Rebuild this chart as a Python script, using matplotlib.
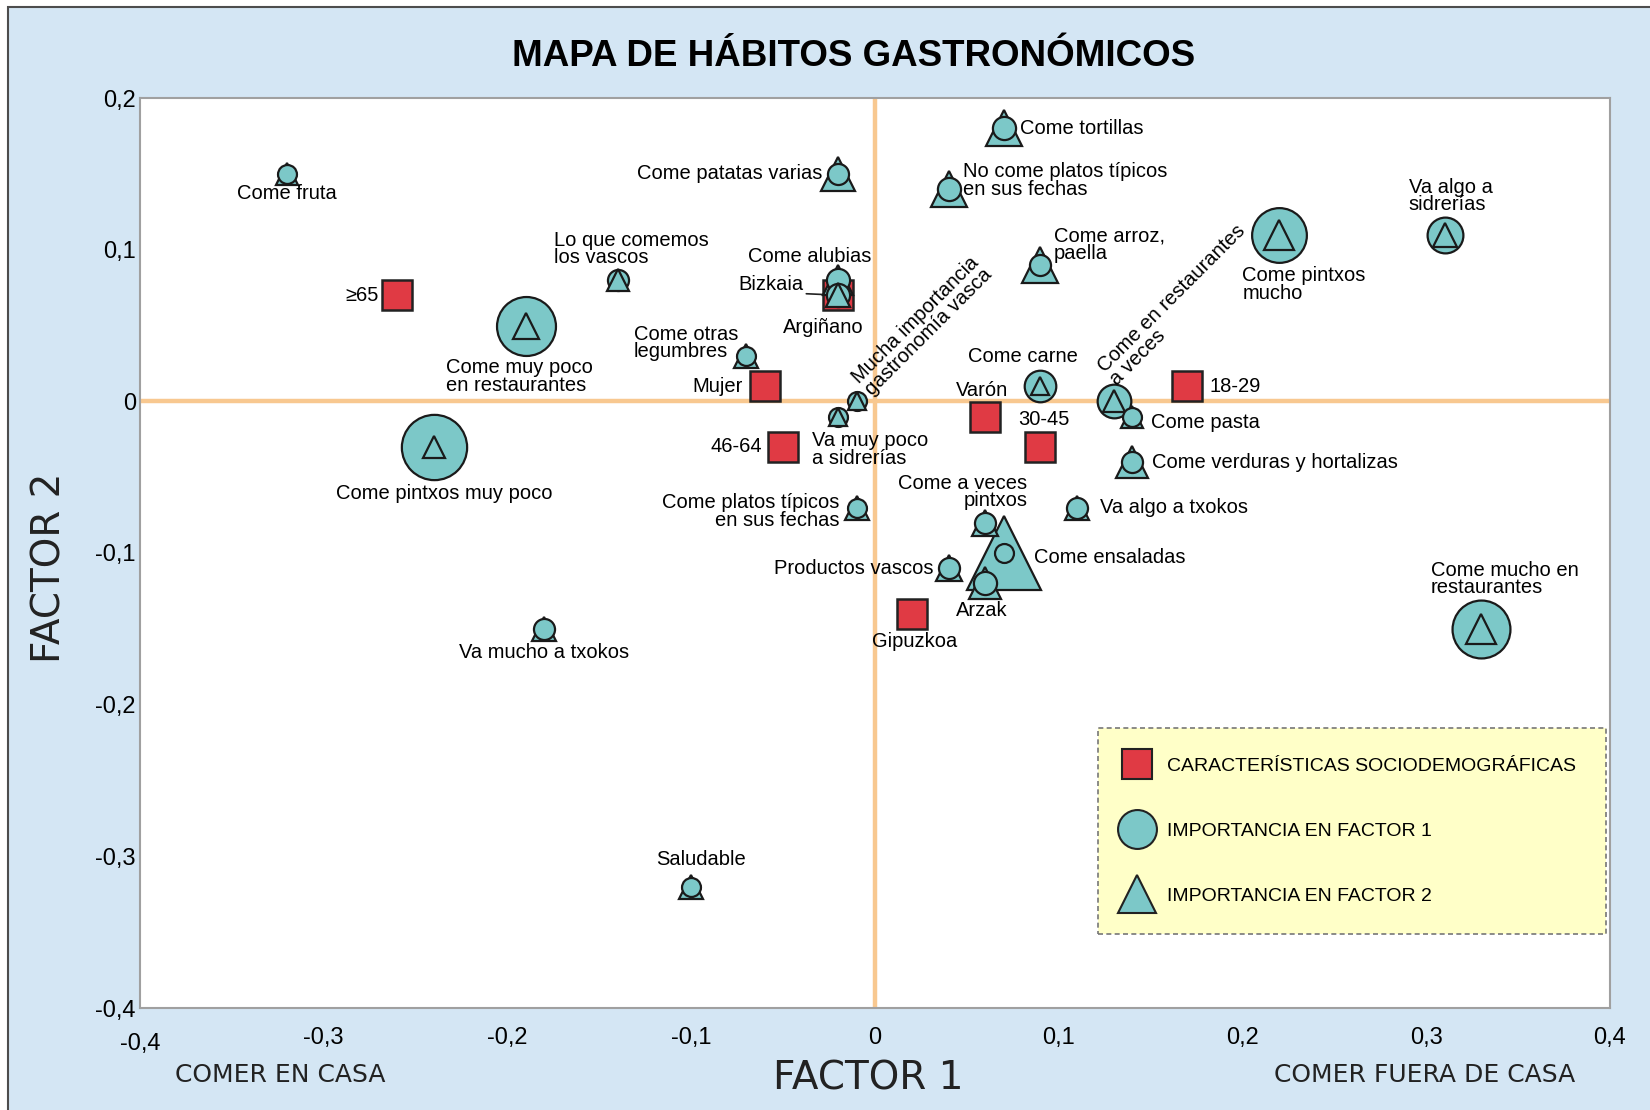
import matplotlib.pyplot as plt
from matplotlib.lines import Line2D
from matplotlib.patches import Rectangle
from matplotlib.transforms import ScaledTranslation

plt.rcParams['font.family'] = ['Liberation Sans', 'DejaVu Sans']

# variables del mapa: tamaño del circulo = importancia en factor 1,
# tamaño del triangulo = importancia en factor 2
labels = ["Come fruta", "Lo que comemos\nlos vascos", "Come muy poco\nen restaurantes",
          "Come pintxos muy poco", "Come patatas varias", "Come alubias", "Argiñano",
          "Come otras\nlegumbres", "Mucha importancia\ngastronomía vasca",
          "Va muy poco\na sidrerías", "Come platos típicos\nen sus fechas", "Productos vascos",
          "Saludable", "Va mucho a txokos", "Arzak", "Come ensaladas", "Come a veces\npintxos",
          "Va algo a txokos", "Come carne", "Come arroz,\npaella",
          "No come platos típicos\nen sus fechas", "Come tortillas",
          "Come en restaurantes\na veces", "Come pasta", "Come verduras y hortalizas",
          "Come pintxos\nmucho", "Va algo a\nsidrerías", "Come mucho en\nrestaurantes"]
fx = [-0.32, -0.14, -0.19, -0.24, -0.02, -0.02, -0.02, -0.07, -0.01, -0.02, -0.01, 0.04,
      -0.10, -0.18, 0.06, 0.07, 0.06, 0.11, 0.09, 0.09, 0.04, 0.07, 0.13, 0.14, 0.14,
      0.22, 0.31, 0.33]
fy = [0.15, 0.08, 0.05, -0.03, 0.15, 0.08, 0.07, 0.03, 0.0, -0.01, -0.07, -0.11,
      -0.32, -0.15, -0.12, -0.10, -0.08, -0.07, 0.01, 0.09, 0.14, 0.18, 0.0, -0.01, -0.04,
      0.11, 0.11, -0.15]
imp1 = [18, 20, 56, 62, 20, 22, 22, 18, 18, 18, 18, 20, 18, 20, 22, 18, 20, 20, 30, 20,
        22, 22, 32, 18, 20, 52, 34, 55]
imp2 = [20, 20, 24, 20, 32, 28, 22, 22, 18, 18, 22, 24, 22, 22, 30, 70, 24, 22, 18, 34,
        34, 34, 20, 20, 30, 28, 22, 28]

# caracteristicas sociodemograficas
socio = ["≥65", "Bizkaia", "Mujer", "46-64", "Varón", "30-45", "18-29", "Gipuzkoa"]
sx = [-0.26, -0.02, -0.06, -0.05, 0.06, 0.09, 0.17, 0.02]
sy = [0.07, 0.07, 0.01, -0.03, -0.01, -0.03, 0.01, -0.14]

ticks_x = [-0.4, -0.3, -0.2, -0.1, 0, 0.1, 0.2, 0.3, 0.4]
ticks_y = [-0.4, -0.3, -0.2, -0.1, 0, 0.1, 0.2]

legend_labels = ["CARACTERÍSTICAS SOCIODEMOGRÁFICAS", "IMPORTANCIA EN FACTOR 1",
                 "IMPORTANCIA EN FACTOR 2"]

# colocacion de etiquetas: dx, dy (px de la imagen), ha, va, rotacion
lab_pos = [(0, -10, 'center', 'top', 0), (-61, 12, 'left', 'bottom', 0),
           (-76, -31, 'left', 'top', 0), (10, -35, 'center', 'top', 0),
           (-15, 0, 'right', 'center', 0), (-27, 22, 'center', 'center', 0),
           (-14, -22, 'center', 'top', 0), (-107, 12, 'left', 'center', 0),
           (17, 2, 'left', 'bottom', 45), (-25, -14, 'left', 'top', 0),
           (-16, -4, 'right', 'center', 0), (-14, 0, 'right', 'center', 0),
           (9, 17, 'center', 'bottom', 0), (0, -13, 'center', 'top', 0),
           (-3, -17, 'center', 'top', 0), (29, -4, 'left', 'center', 0),
           (40, 12, 'right', 'bottom', 0), (22, 0, 'left', 'center', 0),
           (-17, 19, 'center', 'bottom', 0), (13, 2, 'left', 'bottom', 0),
           (14, 8, 'left', 'center', 0), (16, 0, 'left', 'center', 0),
           (6, 12, 'left', 'bottom', 45), (18, -6, 'left', 'center', 0),
           (19, 0, 'left', 'center', 0), (-35, -30, 'left', 'top', 0),
           (-34, 19, 'left', 'bottom', 0), (-48, 30, 'left', 'bottom', 0)]
socio_pos = [(-18, 0, 'right', 'center'), (-33, 10, 'right', 'center'),
             (-21, 0, 'right', 'center'), (-20, 0, 'right', 'center'),
             (-3, 16, 'center', 'bottom'), (3, 17, 'center', 'bottom'),
             (21, 0, 'left', 'center'), (3, -17, 'center', 'top')]

TEAL = '#7cc8c8'
RED = '#e03a44'
ORANGE = '#f8c890'
BG = '#d4e6f4'
K = 0.758  # px de la imagen -> puntos


def fmt(v):
    if v == 0:
        return '0'
    return f'{v:.1f}'.replace('.', ',')


fig = plt.figure(figsize=(16.5, 11.1), dpi=100)
fig.add_artist(Rectangle((8 / 1650, -0.1), 1.2, 1.1 - 7 / 1110, transform=fig.transFigure,
                         facecolor=BG, edgecolor='#4d4d4d', lw=1.5, zorder=-5))
ax = fig.add_axes([140 / 1650, 102 / 1110, 1470 / 1650, 910 / 1110])
ax.set_xlim(-0.4, 0.4)
ax.set_ylim(-0.4, 0.2)

ax.axhline(0, color=ORANGE, lw=3.2, zorder=1)
ax.axvline(0, color=ORANGE, lw=3.2, zorder=1)

for i in range(len(socio)):
    ax.plot(sx[i], sy[i], 's', ms=28 * K, mfc=RED, mec='#222222', mew=1.8, zorder=2.5)
    dx, dy, ha, va = socio_pos[i]
    if socio[i] == "Bizkaia":
        ax.annotate(socio[i], (sx[i], sy[i]), xytext=(dx * K, dy * K), textcoords='offset points',
                    ha=ha, va=va, fontsize=14.5, zorder=2,
                    arrowprops=dict(arrowstyle='-', color='#222222', lw=1.2, relpos=(0.85, 0.05),
                                    shrinkA=0, shrinkB=0))
    else:
        ax.annotate(socio[i], (sx[i], sy[i]), xytext=(dx * K, dy * K), textcoords='offset points',
                    ha=ha, va=va, fontsize=14.5, zorder=5)

# los mas grandes primero para que los pequeños queden encima
order = sorted(range(len(labels)), key=lambda i: -max(imp1[i], imp2[i]))
for i in order:
    shapes = [('o', imp1[i]), ('^', imp2[i])]
    shapes.sort(key=lambda s: -s[1])
    for m, s in shapes:
        ax.plot(fx[i], fy[i], m, ms=s * K, mfc=TEAL, mec='#1a1a1a', mew=1.6, zorder=3)

for i in range(len(labels)):
    dx, dy, ha, va, rot = lab_pos[i]
    ax.annotate(labels[i], (fx[i], fy[i]), xytext=(dx * K, dy * K), textcoords='offset points',
                ha=ha, va=va, rotation=rot, rotation_mode='anchor', fontsize=14.5,
                linespacing=0.9, zorder=5)

ax.set_xticks(ticks_x)
ax.set_xticklabels([fmt(v) for v in ticks_x])
ax.set_yticks(ticks_y)
ax.set_yticklabels([fmt(v) for v in ticks_y])
ax.tick_params(axis='x', length=0, labelsize=17, pad=14)
ax.tick_params(axis='y', length=0, labelsize=17, pad=3)
lab0 = ax.get_xticklabels()[0]
lab0.set_transform(lab0.get_transform() + ScaledTranslation(0, -3.8 / 72, fig.dpi_scale_trans))
for sp in ax.spines.values():
    sp.set_color('#a0a0a0')
    sp.set_linewidth(1.5)

h = [Line2D([], [], ls='none', marker='s', ms=21, mfc=RED, mec='#222222', mew=1.5),
     Line2D([], [], ls='none', marker='o', ms=28, mfc=TEAL, mec='#222222', mew=1.5),
     Line2D([], [], ls='none', marker='^', ms=27, mfc=TEAL, mec='#222222', mew=1.5)]
leg = ax.legend(h, legend_labels, loc='upper left', bbox_to_anchor=(0.652, 0.3077),
                borderaxespad=0, fontsize=14, frameon=True, fancybox=False,
                facecolor='#ffffc8', edgecolor='#777777', framealpha=1, labelspacing=2.45,
                borderpad=1.5, handlelength=1.0, handletextpad=1.05)
leg.get_frame().set_linestyle((0, (3, 2)))
leg.get_frame().set_linewidth(1.2)
leg.set_zorder(6)

fig.text(854 / 1650, 1 - 57 / 1110, "MAPA DE HÁBITOS GASTRONÓMICOS", ha='center', va='center',
         fontsize=26.5, fontweight='bold')
fig.text(50 / 1650, 1 - 568 / 1110, "FACTOR 2", rotation=90, ha='center', va='center',
         fontsize=28, family='DejaVu Sans', color='#222222')
fig.text(868 / 1650, 1 - 1078 / 1110, "FACTOR 1", ha='center', va='center',
         fontsize=28, family='DejaVu Sans', color='#222222')
fig.text(280 / 1650, 1 - 1075 / 1110, "COMER EN CASA", ha='center', va='center',
         fontsize=18, family='DejaVu Sans', color='#222222')
fig.text(1425 / 1650, 1 - 1075 / 1110, "COMER FUERA DE CASA", ha='center', va='center',
         fontsize=18, family='DejaVu Sans', color='#222222')

fig.savefig('out.png', dpi=100)
